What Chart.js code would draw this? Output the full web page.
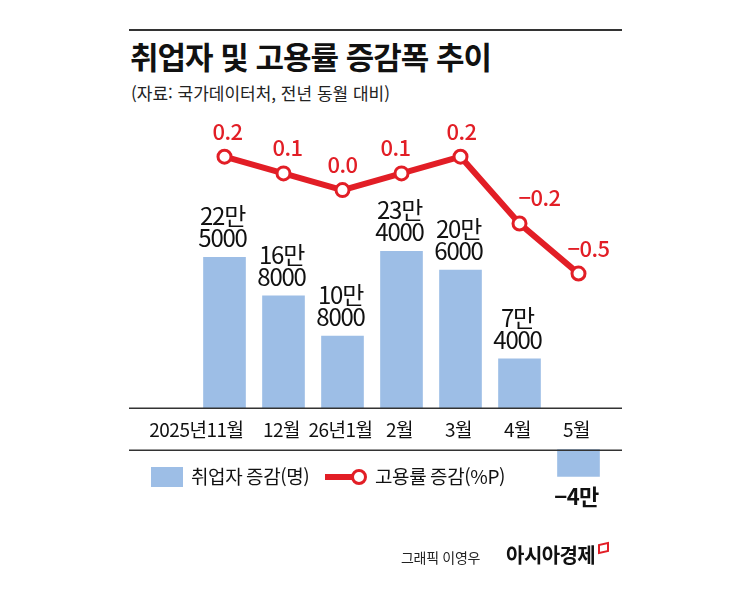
<!DOCTYPE html>
<html lang="ko">
<head>
<meta charset="utf-8">
<script src="https://cdn.jsdelivr.net/npm/chart.js@4.4.1/dist/chart.umd.min.js"></script>
<style>
  html, body { margin: 0; padding: 0; background: #fff; }
  body { width: 745px; height: 594px; position: relative; overflow: hidden; font-family: "Noto Sans CJK KR", "Noto Sans", sans-serif; }
  #wrap { position: absolute; left: 0; top: 0; width: 745px; height: 594px; }
  #rule { position: absolute; left: 129px; top: 29px; width: 493px; height: 2px; background: #333; }
  #title { position: absolute; left: 130px; top: 39px; font-size: 31px; line-height: 34px; font-weight: bold; color: #111; letter-spacing: -1px; white-space: nowrap; }
  #sub { position: absolute; left: 131px; top: 83px; font-size: 17px; line-height: 20px; color: #222; letter-spacing: 0px; white-space: nowrap; }
  #credit { position: absolute; left: 401px; top: 540px; white-space: nowrap; color: #222; }
  #credit .who { font-size: 14px; letter-spacing: -0.3px; }
  #credit .brand { font-size: 20px; font-weight: bold; color: #111; margin-left: 26px; letter-spacing: -0.6px; }
  #credit .mark { display: inline-block; width: 7px; height: 6px; border: 2px solid #e21e26; margin-left: 3px; vertical-align: 10px; transform: skewY(-12deg); }
</style>
</head>
<body>
<div id="rule"></div>
<div id="title">취업자 및 고용률 증감폭 추이</div>
<div id="sub">(자료: 국가데이터처, 전년 동월 대비)</div>
<div id="wrap"><canvas id="chart" width="745" height="594"></canvas></div>
<div id="credit"><span class="who">그래픽 이영우</span><span class="brand">아시아경제</span><span class="mark"></span></div>
<script>
const months = ['2025년11월', '12월', '26년1월', '2월', '3월', '4월', '5월'];
const employed = [225000, 168000, 108000, 234000, 206000, 74000, -40000]; // 취업자 증감(명)
const rate = [0.2, 0.1, 0.0, 0.1, 0.2, -0.2, -0.5]; // 고용률 증감(%P)

const RED = '#e21e26';
const BLUE = '#9dbee6';
const FONT = '"Noto Sans CJK KR", "Noto Sans", sans-serif';

// small nudges so the red labels sit like in the original
const rateLabelDx = [3, 4, 0, -6, 1, 20, 10];

function fmtMan(v) {
    const man = Math.floor(Math.abs(v) / 10000);
    const rest = Math.abs(v) % 10000;
    return { top: man + '만', bottom: rest ? String(rest) : '' };
}

const decorPlugin = {
    id: 'decor',
    afterDatasetsDraw(chart) {
        const ctx = chart.ctx;
        const y0 = chart.scales.y.getPixelForValue(0);
        const yN = chart.scales.yNeg.getPixelForValue(0);
        ctx.save();
        // axis rules
        ctx.strokeStyle = '#333';
        ctx.lineWidth = 1.5;
        [y0, yN].forEach(y => {
            ctx.beginPath();
            ctx.moveTo(129, Math.round(y) + 0.25);
            ctx.lineTo(622, Math.round(y) + 0.25);
            ctx.stroke();
        });

        // month labels between the two rules
        ctx.fillStyle = '#111';
        ctx.font = '19px ' + FONT;
        ctx.letterSpacing = '-0.5px';
        ctx.textBaseline = 'middle';
        const xs = chart.scales.x;
        months.forEach((m, i) => {
            const x = xs.getPixelForValue(i);
            if (i === 0) {
                ctx.textAlign = 'right';
                ctx.fillText(m, x + 19, (y0 + yN) / 2 + 1);
            } else {
                ctx.textAlign = 'center';
                ctx.fillText(m, x - 2, (y0 + yN) / 2 + 1);
            }
        });

        // bar value labels
        const posMeta = chart.getDatasetMeta(1);
        const negMeta = chart.getDatasetMeta(2);
        ctx.textAlign = 'center';
        ctx.textBaseline = 'alphabetic';
        employed.forEach((v, i) => {
            const t = fmtMan(v);
            if (v >= 0) {
                const bar = posMeta.data[i];
                ctx.font = '24px ' + FONT;
                ctx.letterSpacing = '-1.2px';
                ctx.fillStyle = '#111';
                ctx.fillText(t.top, bar.x - 2, bar.y - 32);
                if (t.bottom) ctx.fillText(t.bottom, bar.x - 2, bar.y - 10);
            } else {
                const bar = negMeta.data[i];
                ctx.font = 'bold 22px ' + FONT;
                ctx.letterSpacing = '-0.5px';
                ctx.fillStyle = '#111';
                ctx.fillText('\u2212' + t.top, bar.x - 2, bar.y + 29);
            }
        });

        // rate labels
        const lineMeta = chart.getDatasetMeta(0);
        ctx.font = '500 22px ' + FONT;
        ctx.letterSpacing = '-0.5px';
        ctx.fillStyle = RED;
        rate.forEach((r, i) => {
            const p = lineMeta.data[i];
            const txt = (r < 0 ? '\u2212' : '') + Math.abs(r).toFixed(1);
            ctx.fillText(txt, p.x + rateLabelDx[i], p.y - 17);
        });

        // legend
        const ly = 477;
        ctx.fillStyle = BLUE;
        ctx.fillRect(151, ly - 10, 32, 20);
        ctx.fillStyle = '#111';
        ctx.font = '19px ' + FONT;
        ctx.letterSpacing = '-0.4px';
        ctx.textAlign = 'left';
        ctx.textBaseline = 'middle';
        ctx.fillText('취업자 증감(명)', 191, ly);
        ctx.strokeStyle = RED;
        ctx.lineWidth = 6;
        ctx.beginPath();
        ctx.moveTo(325, ly);
        ctx.lineTo(352, ly);
        ctx.stroke();
        ctx.lineWidth = 3;
        ctx.fillStyle = '#fff';
        ctx.beginPath();
        ctx.arc(359, ly, 6.5, 0, Math.PI * 2);
        ctx.fill();
        ctx.stroke();
        ctx.fillStyle = '#111';
        ctx.fillText('고용률 증감(%P)', 375, ly);
        ctx.restore();
    }
};

const ctx = document.getElementById('chart').getContext('2d');
new Chart(ctx, {
    type: 'bar',
    data: {
        labels: months,
        datasets: [
            {
                type: 'line',
                label: '고용률 증감(%P)',
                data: rate,
                yAxisID: 'y2',
                borderColor: RED,
                borderWidth: 6,
                pointRadius: 6.5,
                pointBorderWidth: 3,
                pointBackgroundColor: '#fff',
                pointBorderColor: RED,
                tension: 0,
                clip: false,
                order: 0
            },
            {
                label: '취업자 증감(명)',
                data: employed.map(v => v >= 0 ? v : null),
                yAxisID: 'y',
                backgroundColor: BLUE,
                barThickness: 42,
                grouped: false,
                order: 1
            },
            {
                label: '취업자 증감(명) 감소',
                data: employed.map(v => v < 0 ? v : null),
                yAxisID: 'yNeg',
                backgroundColor: BLUE,
                barThickness: 42,
                grouped: false,
                clip: false,
                order: 1
            }
        ]
    },
    options: {
        responsive: false,
        animation: false,
        layout: { padding: { left: 195, right: 137, top: 140, bottom: 105 } },
        plugins: {
            legend: { display: false },
            tooltip: { enabled: false },
            title: { display: false }
        },
        scales: {
            x: { display: false, offset: true },
            y: { display: false, min: -120000, max: 400000 },
            y2: { display: false, min: -1.79, max: 0.3 },
            yNeg: { display: false, min: -58850, max: 461150 }
        }
    },
    plugins: [decorPlugin]
});
</script>
</body>
</html>
